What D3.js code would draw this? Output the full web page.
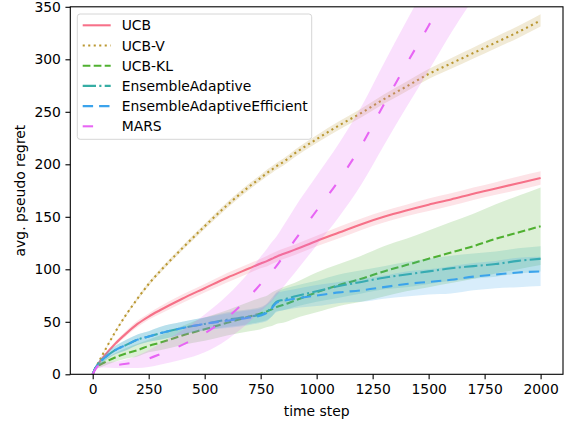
<!DOCTYPE html>
<html>
<head>
<meta charset="utf-8">
<script src="https://cdn.jsdelivr.net/npm/d3@7"></script>
<style>
  body { margin: 0; background: #fff; }
  svg text { font-family: "DejaVu Sans", sans-serif; fill: #000; }
</style>
</head>
<body>
<div id="chart"></div>
<script>
// time steps shared by every series
var steps = [0,10,25,50,100,150,200,250,300,400, 500,600,700,750,780,800,820,850,900,1000, 1100,1200,1300,1400,1500,1600,1700,1800,1900,2000];

// mean regret and half-width of the band
var ucb     = [0,5,10,17,29,39,48,55,61,72, 82,92,101,105.5,108,110,112,114.5,118.5,127, 135,143,150,156,161.5,166.5,172,177,182,187];
var ucbErr  = [0,0.5,1,1.5,2,2.5,3,3,3.5,4, 4,4.5,4.5,4.5,5,5,5,5,5,5, 5.5,5.5,5.5,5.5,6,6,6,6,6.5,6.5];
var ucbV    = [0,5,11,21,40,57,72,86,98,120, 141,161,179,187,192,195,198,202,210,224, 237,249,262,274,286,296,306,316,326,337];
var ucbVErr = [0,0.3,0.5,0.8,1,1.2,1.5,1.8,2,2.2, 2.5,2.8,3,3,3.2,3.2,3.3,3.3,3.5,3.7, 4,4.2,4.4,4.6,4.8,5,5.2,5.4,5.6,5.8];
var ucbKL   = [0,5,8,11,16,20,23,27,30,37, 43,49,55,58,60,62,64,66,70,78, 85,91,98,104,110,116,122,129,135,141];
var ucbKLErr= [0,1,2,3,4,5,6,6,7,9, 11,12,14,15,15,16,16,17,17,19, 20,22,24,25,27,29,31,33,35,37];
var ensA    = [0,5,10,15,23,28,33,36,39,44, 48,52,55,57,60,64,69,71,74,79, 84,88,92,95,98,101,103,105,108,110];
var ensAErr = [0,1,2,3,4,5,5,5,6,6, 6,7,7,7,8,9,9,10,10,10, 11,11,11,12,12,12,12,12,12,12];
var ensE    = [0,5,10,15,23,28,33,36,39,44, 48,51,54,56,59,63,68,70,72,75, 78,80,83,86,88,90,93,95,97,98];
var ensEErr = [0,1,2,3,4,5,5,5,6,6, 6,7,7,7,8,8,9,9,9,10, 10,11,11,12,12,13,13,13,14,14];
var mars    = [0,4,8,9,9,10,12,15,19,28, 39,54,74,86,93,98,103,112,127,156, 185,218,257,295,332,370,405,440,475,510];
var marsErr = [0,1,2,2.5,3,4,6,8,10,14, 18,21,24,26,27,28,28,29,31,33, 35,37,39,41,43,45,47,49,51,53];

var names  = ["UCB", "UCB-V", "UCB-KL", "EnsembleAdaptive", "EnsembleAdaptiveEfficient", "MARS"];
var xTicks = [0,250,500,750,1000,1250,1500,1750,2000];
var yTicks = [0,50,100,150,200,250,300,350];

var colors = ["#f77189", "#bb9832", "#50b131", "#36ada4", "#3ba3ec", "#e866f4"];
var dashes = ["none", "2.1,3.4", "7.7,3.3", "13.3,3.3,2.1,3.3", "10.4,6", "10.4,20.8"];

var series = [
  {name: names[0], mean: ucb,   err: ucbErr},
  {name: names[1], mean: ucbV,  err: ucbVErr},
  {name: names[2], mean: ucbKL, err: ucbKLErr},
  {name: names[3], mean: ensA,  err: ensAErr},
  {name: names[4], mean: ensE,  err: ensEErr},
  {name: names[5], mean: mars,  err: marsErr}
];

var W = 571, H = 421;
var margin = {left: 70.3, right: 8, top: 6.8, bottom: 46.7};
var fs = 13.9;

var svg = d3.select("#chart").append("svg")
  .attr("width", W).attr("height", H);

var x = d3.scaleLinear().domain([-100, 2100]).range([margin.left, W - margin.right]);
var y = d3.scaleLinear().domain([0, 350]).range([H - margin.bottom, margin.top]);

svg.append("clipPath").attr("id", "plotclip")
  .append("rect")
  .attr("x", x.range()[0]).attr("y", y.range()[1])
  .attr("width", x.range()[1] - x.range()[0])
  .attr("height", y.range()[0] - y.range()[1]);

var plot = svg.append("g").attr("clip-path", "url(#plotclip)");

var line = d3.line()
  .x(function(d) { return x(d.t); })
  .y(function(d) { return y(d.v); })
  .curve(d3.curveMonotoneX);
var band = d3.area()
  .x(function(d) { return x(d.t); })
  .y0(function(d) { return y(d.v - d.e); })
  .y1(function(d) { return y(d.v + d.e); })
  .curve(d3.curveMonotoneX);

series.forEach(function(s, i) {
  var pts = steps.map(function(t, k) { return {t: t, v: s.mean[k], e: s.err[k]}; });
  plot.append("path")
    .attr("d", line(pts))
    .attr("fill", "none")
    .attr("stroke", colors[i])
    .attr("stroke-width", 2.08)
    .attr("stroke-dasharray", dashes[i]);
  plot.append("path")
    .attr("d", band(pts))
    .attr("fill", colors[i])
    .attr("fill-opacity", 0.2)
    .attr("stroke", "none");
});

// axes
var xAxis = svg.append("g")
  .attr("transform", "translate(0," + y.range()[0] + ")")
  .call(d3.axisBottom(x).tickValues(xTicks).tickSize(4.86).tickPadding(4.5).tickFormat(d3.format("d")));
var yAxis = svg.append("g")
  .attr("transform", "translate(" + x.range()[0] + ",0)")
  .call(d3.axisLeft(y).tickValues(yTicks).tickSize(4.86).tickPadding(4.5).tickFormat(d3.format("d")));
[xAxis, yAxis].forEach(function(a) {
  a.select(".domain").remove();
  a.selectAll("line").attr("stroke", "#000").attr("stroke-width", 1.1);
  a.selectAll("text").style("font-size", fs + "px").attr("fill", "#000");
});

// spines
svg.append("rect")
  .attr("x", x.range()[0]).attr("y", y.range()[1])
  .attr("width", x.range()[1] - x.range()[0])
  .attr("height", y.range()[0] - y.range()[1])
  .attr("fill", "none").attr("stroke", "#000").attr("stroke-width", 1.1);

svg.append("text")
  .text("time step")
  .attr("x", (x.range()[0] + x.range()[1]) / 2)
  .attr("y", 416)
  .attr("text-anchor", "middle")
  .style("font-size", fs + "px");

svg.append("text")
  .text("avg. pseudo regret")
  .attr("transform", "translate(25," + (y.range()[0] + y.range()[1]) / 2 + ") rotate(-90)")
  .attr("text-anchor", "middle")
  .style("font-size", fs + "px");

// legend
var leg = svg.append("g");
leg.append("rect")
  .attr("x", 77.3).attr("y", 14)
  .attr("width", 234.4).attr("height", 125.3)
  .attr("rx", 2.8)
  .attr("fill", "#fff").attr("fill-opacity", 0.8)
  .attr("stroke", "#d6d6d6").attr("stroke-width", 1);
names.forEach(function(n, i) {
  var cy = 25.3 + i * 20.2;
  leg.append("line")
    .attr("x1", 82.7).attr("x2", 110.7)
    .attr("y1", cy).attr("y2", cy)
    .attr("stroke", colors[i])
    .attr("stroke-width", 2.08)
    .attr("stroke-dasharray", dashes[i]);
  leg.append("text")
    .text(n)
    .attr("x", 121.7)
    .attr("y", cy + 5)
    .style("font-size", fs + "px");
});
</script>
</body>
</html>
